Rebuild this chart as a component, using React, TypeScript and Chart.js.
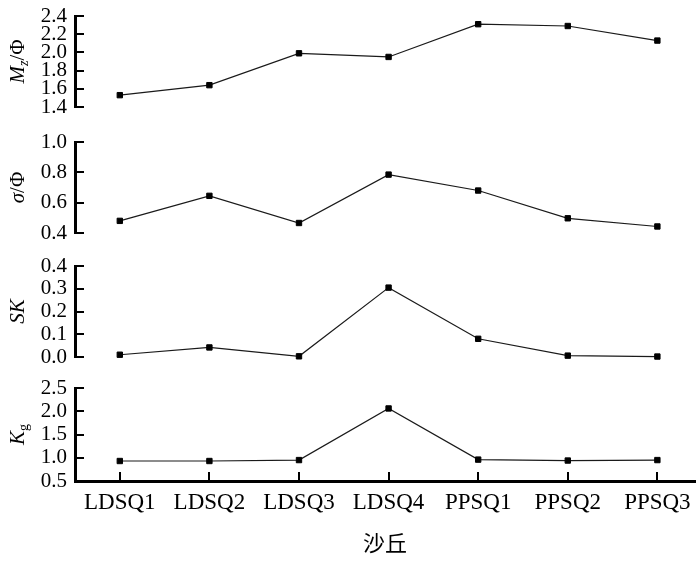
import React, { useEffect, useRef } from 'react';
import { Chart, registerables } from 'chart.js';

Chart.register(...registerables);

// ---------- data ----------
const categories = ['LDSQ1', 'LDSQ2', 'LDSQ3', 'LDSQ4', 'PPSQ1', 'PPSQ2', 'PPSQ3'];
const mzValues = [1.53, 1.64, 1.99, 1.95, 2.31, 2.29, 2.13];
const sigmaValues = [0.48, 0.645, 0.466, 0.785, 0.68, 0.497, 0.443];
const skValues = [0.01, 0.042, 0.003, 0.305, 0.08, 0.006, 0.002];
const kgValues = [0.93, 0.93, 0.95, 2.06, 0.96, 0.94, 0.95];

const mzTicks = [1.4, 1.6, 1.8, 2.0, 2.2, 2.4];
const sigmaTicks = [0.4, 0.6, 0.8, 1.0];
const skTicks = [0.0, 0.1, 0.2, 0.3, 0.4];
const kgTicks = [0.5, 1.0, 1.5, 2.0, 2.5];

const xTitle = '沙丘';

type Seg = { text: string; italic?: boolean; sub?: boolean };

const mzTitle: Seg[] = [{ text: 'M', italic: true }, { text: 'z', italic: true, sub: true }, { text: '/Φ' }];
const sigmaTitle: Seg[] = [{ text: 'σ', italic: true }, { text: '/Φ' }];
const skTitle: Seg[] = [{ text: 'SK', italic: true }];
const kgTitle: Seg[] = [{ text: 'K', italic: true }, { text: 'g', sub: true }];

// ---------- layout ----------
const PANELS = [
  { values: mzValues, ticks: mzTicks, title: mzTitle, top: 16, bottom: 107, last: false },
  { values: sigmaValues, ticks: sigmaTicks, title: sigmaTitle, top: 142, bottom: 233, last: false },
  { values: skValues, ticks: skTicks, title: skTitle, top: 266, bottom: 357, last: false },
  { values: kgValues, ticks: kgTicks, title: kgTitle, top: 388, bottom: 481, last: true },
];

const W = 700;
const H = 562;
const PAD = 16;
const AXIS_LEFT = 75;
const SERIF = '"Liberation Serif", "Times New Roman", serif';

function Panel({ p }: { p: typeof PANELS[number] }) {
  const ref = useRef<HTMLCanvasElement>(null);
  const canvasTop = p.top - PAD;
  const canvasH = p.last ? H - canvasTop : p.bottom + PAD - canvasTop;
  const xHeight = p.last ? canvasH - PAD - (p.bottom - p.top) : 0;

  useEffect(() => {
    if (!ref.current) return;

    const innerTicks = {
      id: 'innerTicks',
      afterDraw(chart: any) {
        const ctx = chart.ctx;
        const a = chart.chartArea;
        ctx.save();
        ctx.strokeStyle = '#000';
        ctx.lineWidth = 2;
        const ys = chart.scales.y;
        ys.ticks.forEach((t: any) => {
          const py = Math.round(ys.getPixelForValue(t.value));
          ctx.beginPath();
          ctx.moveTo(a.left, py);
          ctx.lineTo(a.left + 9, py);
          ctx.stroke();
        });
        const xs = chart.scales.x;
        if (xs.options.display) {
          xs.ticks.forEach((t: any) => {
            const px = Math.round(xs.getPixelForValue(t.value));
            ctx.beginPath();
            ctx.moveTo(px, a.bottom);
            ctx.lineTo(px, a.bottom - 9);
            ctx.stroke();
          });
        }
        ctx.restore();
      },
    };

    const yTitle = {
      id: 'yTitle',
      afterDraw(chart: any) {
        const ctx = chart.ctx;
        const a = chart.chartArea;
        const size = 21;
        const fontOf = (s: Seg) =>
          `${s.italic ? 'italic ' : ''}${s.sub ? Math.round(size * 0.65) : size}px ${SERIF}`;
        ctx.save();
        let total = 0;
        p.title.forEach((s) => {
          ctx.font = fontOf(s);
          total += ctx.measureText(s.text).width;
        });
        ctx.translate(18, (a.top + a.bottom) / 2);
        ctx.rotate(-Math.PI / 2);
        ctx.fillStyle = '#000';
        ctx.textBaseline = 'middle';
        ctx.textAlign = 'left';
        let x = -total / 2;
        p.title.forEach((s) => {
          ctx.font = fontOf(s);
          ctx.fillText(s.text, x, s.sub ? size * 0.3 : 0);
          x += ctx.measureText(s.text).width;
        });
        ctx.restore();
      },
    };

    const chart = new Chart(ref.current, {
      type: 'line',
      data: {
        datasets: [
          {
            data: p.values.map((y, i) => ({ x: i, y })),
            borderColor: '#1a1a1a',
            borderWidth: 1.2,
            pointStyle: 'rect',
            pointRadius: 3.8,
            pointBackgroundColor: '#000',
            pointBorderColor: '#000',
            pointBorderWidth: 1,
            tension: 0,
            clip: false as any,
          },
        ],
      },
      options: {
        responsive: false,
        maintainAspectRatio: false,
        animation: false,
        devicePixelRatio: 1,
        events: [],
        layout: { padding: { top: PAD, bottom: p.last ? 0 : PAD, left: 0, right: 2 } },
        plugins: {
          legend: { display: false },
          tooltip: { enabled: false },
        },
        scales: {
          x: {
            type: 'linear',
            min: -0.5,
            max: 6.42,
            display: p.last,
            afterBuildTicks: (s: any) => {
              s.ticks = categories.map((_, i) => ({ value: i }));
            },
            afterFit: (s: any) => {
              s.height = xHeight;
              s.paddingLeft = 0;
              s.paddingRight = 0;
            },
            grid: { display: false, drawTicks: false },
            border: { display: true, width: 3, color: '#000' },
            ticks: {
              autoSkip: false,
              maxRotation: 0,
              minRotation: 0,
              padding: 8,
              color: '#000',
              font: { family: SERIF, size: 23 },
              callback: (v: any) => categories[Math.round(Number(v))] ?? '',
            },
            title: {
              display: true,
              text: xTitle,
              color: '#000',
              font: { family: '"Noto Sans CJK SC", sans-serif', size: 22 },
              padding: { top: 0, bottom: 6 },
            },
          },
          y: {
            type: 'linear',
            position: 'left',
            min: p.ticks[0],
            max: p.ticks[p.ticks.length - 1],
            afterBuildTicks: (s: any) => {
              s.ticks = p.ticks.map((v) => ({ value: v }));
            },
            afterFit: (s: any) => {
              s.width = AXIS_LEFT;
              s.paddingTop = 0;
              s.paddingBottom = 0;
            },
            grid: { display: false, drawTicks: false },
            border: { display: true, width: 3, color: '#000' },
            ticks: {
              autoSkip: false,
              padding: 8,
              color: '#000',
              font: { family: SERIF, size: 21 },
              callback: (v: any) => Number(v).toFixed(1),
            },
          },
        },
      } as any,
      plugins: [innerTicks, yTitle],
    });
    return () => chart.destroy();
  }, []);

  return (
    <canvas
      ref={ref}
      width={W}
      height={canvasH}
      style={{ position: 'absolute', left: 0, top: canvasTop, width: W, height: canvasH, display: 'block' }}
    />
  );
}

export default function App() {
  return (
    <div style={{ position: 'fixed', left: 0, top: 0, width: W, height: H, background: '#fff' }}>
      {PANELS.map((p, i) => (
        <Panel key={i} p={p} />
      ))}
    </div>
  );
}
